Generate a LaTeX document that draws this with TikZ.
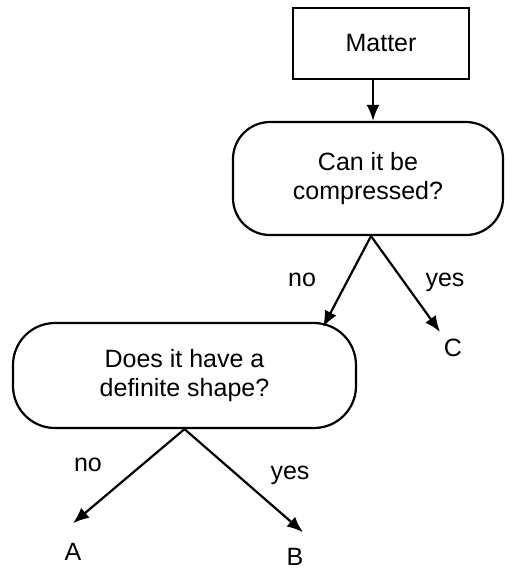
\documentclass[tikz,border=0pt]{standalone}
\usepackage{fontspec}
\setmainfont{Liberation Sans}
\usetikzlibrary{arrows.meta}
\begin{document}
\begin{tikzpicture}[x=1pt,y=-1pt,
  every node/.style={font=\fontsize{25}{29}\selectfont},
  box/.style={draw, line width=2.2pt, inner sep=0pt, align=center},
  arr/.style={line width=2.2pt, -{Latex[length=16pt,width=13pt]}},
  lbl/.style={inner sep=0pt}]
\useasboundingbox (0,0) rectangle (506,570);
\node[box, minimum width=176pt, minimum height=71pt] (matter) at (381,43.5) {Matter};
\node[box, rounded corners=37pt, minimum width=270pt, minimum height=113pt] (q1) at (368,178.5) {Can it be\\compressed?};
\node[box, rounded corners=42pt, minimum width=343pt, minimum height=105pt] (q2) at (184.5,375.5) {Does it have a\\definite shape?};
\node[lbl] (no1) at (302,280) {no};
\node[lbl] (yes1) at (445,282) {yes};
\node[lbl] (C) at (453,348) {C};
\node[lbl] (no2) at (88,465) {no};
\node[lbl] (yes2) at (290,475) {yes};
\node[lbl] (A) at (73,552) {A};
\node[lbl] (B) at (295,557) {B};
\draw[arr] ([xshift=-8pt]matter.south) -- ([xshift=-8pt]matter.south |- q1.north);
\coordinate (s1) at ([xshift=3pt]q1.south);
\draw[arr] (s1) -- ([xshift=-34pt,yshift=-5pt]q2.north east);
\draw[arr] (s1) -- ([xshift=-13pt,yshift=7pt]C.north);
\draw[arr] (q2.south) -- ([yshift=20pt]A.north);
\draw[arr] (q2.south) -- ([xshift=8pt,yshift=16pt]B.north);
\end{tikzpicture}
\end{document}
